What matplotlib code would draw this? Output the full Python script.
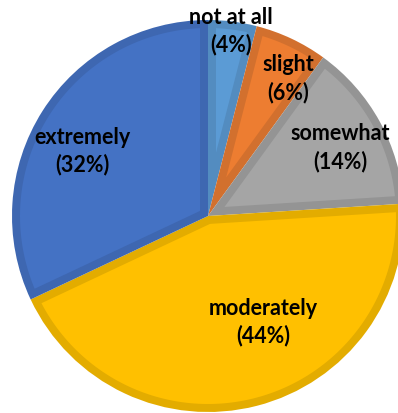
import numpy as np
import matplotlib.pyplot as plt
from matplotlib.patches import Polygon

# survey answers, clockwise from 12 o'clock
categories = ["not at all", "slight", "somewhat", "moderately", "extremely"]
shares = [4, 6, 14, 44, 32]

fills = ["#5B9BD5", "#ED7D31", "#A5A5A5", "#FFC000", "#4472C4"]
edges = ["#538CC0", "#D2702E", "#949494", "#E3AC00", "#3E67B1"]

# label placement tweaks (fraction of radius, angle shift in degrees)
label_r = [0.95, 0.81, 0.76, 0.61, 0.72]
label_shift = [0.0, -5.0, -1.5, 13.0, 5.0]

W, H = 398, 413
fig = plt.figure(figsize=(W / 100, H / 100), dpi=100)
ax = fig.add_axes([0, 0, 1, 1])

cx, cy = 208, H - 216
R = 196
border = 8  # px, drawn inside each slice


def inner_slice(t1, t2, d):
    """polygon of the slice t1..t2 (deg) shrunk inward by d"""
    a1, a2 = np.deg2rad(t1), np.deg2rad(t2)
    half = (a2 - a1) / 2
    bis = a1 + half
    v = d / np.sin(half)
    delta = np.arcsin(d / (R - d))
    arc = np.linspace(a1 + delta, a2 - delta, 120)
    xs = np.r_[cx + v * np.cos(bis), cx + (R - d) * np.cos(arc)]
    ys = np.r_[cy + v * np.sin(bis), cy + (R - d) * np.sin(arc)]
    return np.column_stack([xs, ys])


wedges, _ = ax.pie(shares, colors=edges, startangle=90, counterclock=False,
                   center=(cx, cy), radius=R, frame=True,
                   wedgeprops=dict(linewidth=0))

for w, fc in zip(wedges, fills):
    ax.add_patch(Polygon(inner_slice(w.theta1, w.theta2, border),
                         closed=True, facecolor=fc, edgecolor="none"))

for w, name, s, rf, dang in zip(wedges, categories, shares, label_r, label_shift):
    mid = np.deg2rad((w.theta1 + w.theta2) / 2 + dang)
    x = cx + rf * R * np.cos(mid)
    y = cy + rf * R * np.sin(mid)
    ax.text(x, y, "%s\n(%d%%)" % (name, s), ha="center", va="center",
            fontsize=15.5, fontweight="bold", family="Lato", color="black",
            linespacing=1.35)

ax.set_xlim(0, W)
ax.set_ylim(0, H)
ax.set_aspect("equal")
ax.axis("off")

fig.savefig("out.png", dpi=100)
